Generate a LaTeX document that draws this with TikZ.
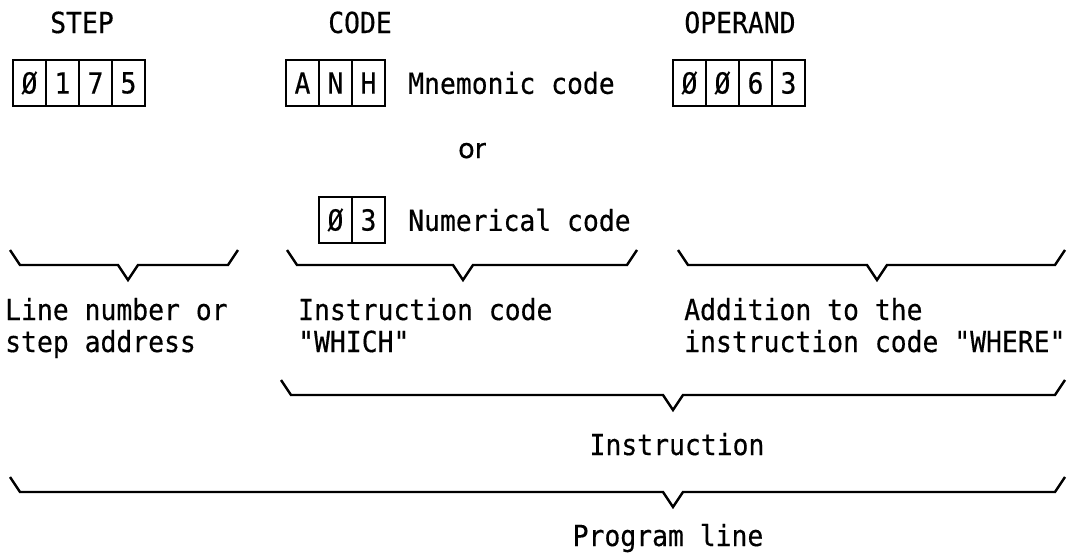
\documentclass[tikz,border=0pt]{standalone}
\usepackage{fontspec}
\setmonofont{DejaVu Sans Mono}[FakeStretch=0.91,FakeBold=0.4]
\newfontfamily\orfont{DejaVu Sans}[FakeBold=0.6]
\begin{document}
\begin{tikzpicture}[x=1pt,y=-1pt,
  txt/.style={font=\fontsize{29}{34}\selectfont\ttfamily, inner sep=0pt},
  cell/.style={draw, line width=2.2pt, minimum width=33pt, minimum height=46pt,
    inner sep=0pt, font=\fontsize{29}{34}\selectfont\ttfamily},
  brace/.style={line width=2.4pt, line join=miter}]
\useasboundingbox (0,0) rectangle (1067,554);

% column headers
\node[txt, anchor=base] (hstep) at (82,33) {STEP};
\node[txt, anchor=base] (hcode) at (360,33) {CODE};
\node[txt, anchor=base] (hop)   at (740,33) {OPERAND};

% step cells
\node[cell] (s1) at (29.5,83) {Ø};
\node[cell] (s2) at (62.5,83) {1};
\node[cell] (s3) at (95.5,83) {7};
\node[cell] (s4) at (128.5,83) {5};

% mnemonic cells
\node[cell] (m1) at (302.5,83) {A};
\node[cell] (m2) at (335.5,83) {N};
\node[cell] (m3) at (368.5,83) {H};
\node[txt, anchor=west] (mtxt) at (408,83) {Mnemonic code};

% operand cells
\node[cell] (o1) at (689.5,83) {Ø};
\node[cell] (o2) at (722.5,83) {Ø};
\node[cell] (o3) at (755.5,83) {6};
\node[cell] (o4) at (788.5,83) {3};

% or
\node[inner sep=0pt, font=\fontsize{27}{32}\selectfont\orfont, anchor=base] (or) at (472,158) {or};

% numerical cells
\node[cell] (n1) at (335.5,220) {Ø};
\node[cell] (n2) at (368.5,220) {3};
\node[txt, anchor=west] (ntxt) at (408,220) {Numerical code};

% brace coordinates: left top end, tip, right top end
\coordinate (b1l) at (10,250);  \coordinate (b1t) at (128,280); \coordinate (b1r) at (238,250);
\coordinate (b2l) at (287,250); \coordinate (b2t) at (463,280); \coordinate (b2r) at (637,250);
\coordinate (b3l) at (678,250); \coordinate (b3t) at (877,280); \coordinate (b3r) at (1065,250);
\coordinate (b4l) at (281,380); \coordinate (b4t) at (673,410); \coordinate (b4r) at (1065,380);
\coordinate (b5l) at (10,477);  \coordinate (b5t) at (673,507); \coordinate (b5r) at (1065,477);

\foreach \b in {b1,b2,b3,b4,b5}{
  \draw[brace] (\b l) -- ++(10,15)
    -- ([xshift=-10pt,yshift=15pt]\b t) -- (\b t) -- ([xshift=10pt,yshift=15pt]\b t)
    -- ([xshift=-10pt,yshift=-15pt]\b r) -- (\b r);
}

% descriptions
\node[txt, anchor=base west] (d1a) at (5,320) {Line number or};
\node[txt, anchor=base west] (d1b) at (5,352) {step address};
\node[txt, anchor=base west] (d2a) at (298,320) {Instruction code};
\node[txt, anchor=base west] (d2b) at (298,352) {"WHICH"};
\node[txt, anchor=base west] (d3a) at (684,320) {Addition to the};
\node[txt, anchor=base west] (d3b) at (684,352) {instruction code "WHERE"};

\node[txt, anchor=base] (instr) at (677,455) {Instruction};
\node[txt, anchor=base] (prog) at (668,546) {Program line};
\end{tikzpicture}
\end{document}
